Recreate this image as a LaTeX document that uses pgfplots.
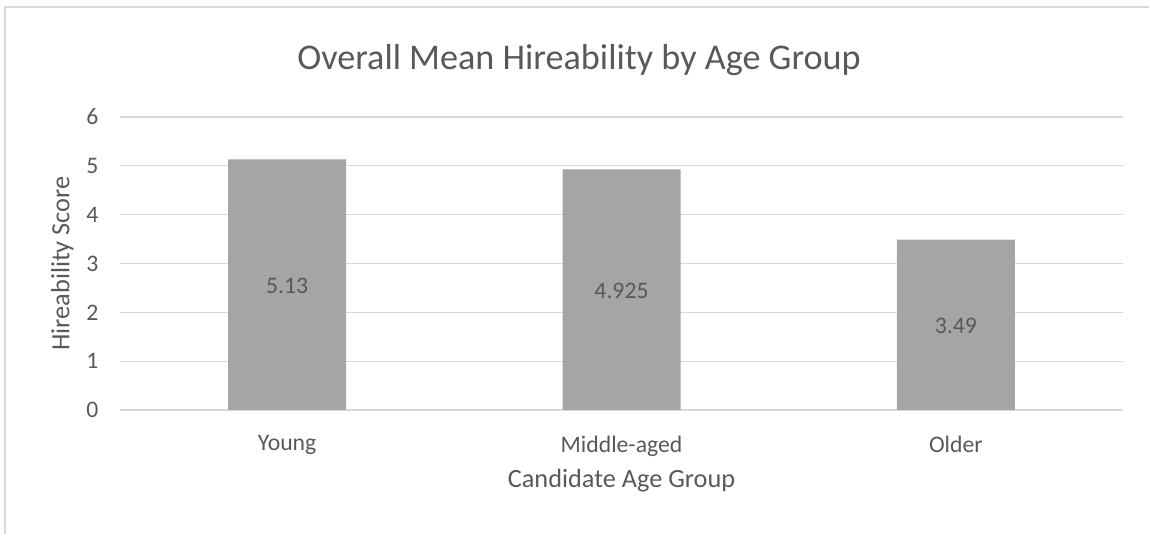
\documentclass[border=0pt]{standalone}
\usepackage{fontspec}
\setmainfont{Carlito}
\usepackage{pgfplots}
\pgfplotsset{compat=1.18}

\definecolor{txt}{HTML}{595959}
\definecolor{gridc}{HTML}{D9D9D9}
\definecolor{barc}{HTML}{A5A5A5}

\begin{document}
\begin{tikzpicture}[x=1bp,y=1bp]
  % canvas and chart frame
  \path[use as bounding box] (0,0) rectangle (1149,534);
  \draw[gridc, line width=1.3bp] (5,0) -- (5,527) -- (1149,527);

  \begin{axis}[
    at={(120bp,124bp)}, anchor=south west,
    scale only axis,
    width=1003bp, height=293bp,
    xmin=-0.5, xmax=2.5,
    ymin=0, ymax=6,
    ytick={0,1,2,3,4,5,6},
    xtick=data,
    xticklabels={Young, Middle-aged, Older},
    ymajorgrids,
    grid style={gridc, line width=1.3bp},
    axis lines*=left,
    y axis line style={draw=none},
    x axis line style={gridc, line width=1.3bp},
    tick style={draw=none},
    /pgf/number format/assume math mode=true,
    ticklabel style={font=\fontsize{23.8}{28}\selectfont, text=txt},
    yticklabel style={xshift=-18bp},
    xticklabel style={yshift=-18bp},
    xlabel={Candidate Age Group},
    ylabel={Hireability Score},
    label style={font=\fontsize{26.4}{31}\selectfont, text=txt},
    xlabel style={yshift=-6bp},
    ylabel style={yshift=6bp},
    ybar, bar width=118bp,
    nodes near coords,
    visualization depends on={rawy \as \rawy},
    every node near coord/.append style={
      anchor=center, yshift=-\rawy*24.4167bp-1bp,
      font=\fontsize{23.8}{28}\selectfont, text=txt,
      /pgf/number format/fixed, /pgf/number format/precision=3},
  ]
    \addplot[fill=barc, draw=none] coordinates {(0,5.13) (1,4.925) (2,3.49)};
  \end{axis}

  \node[anchor=base, text=txt, font=\fontsize{36.3}{44}\selectfont] at (579,464) {Overall Mean Hireability by Age Group};
\end{tikzpicture}
\end{document}
